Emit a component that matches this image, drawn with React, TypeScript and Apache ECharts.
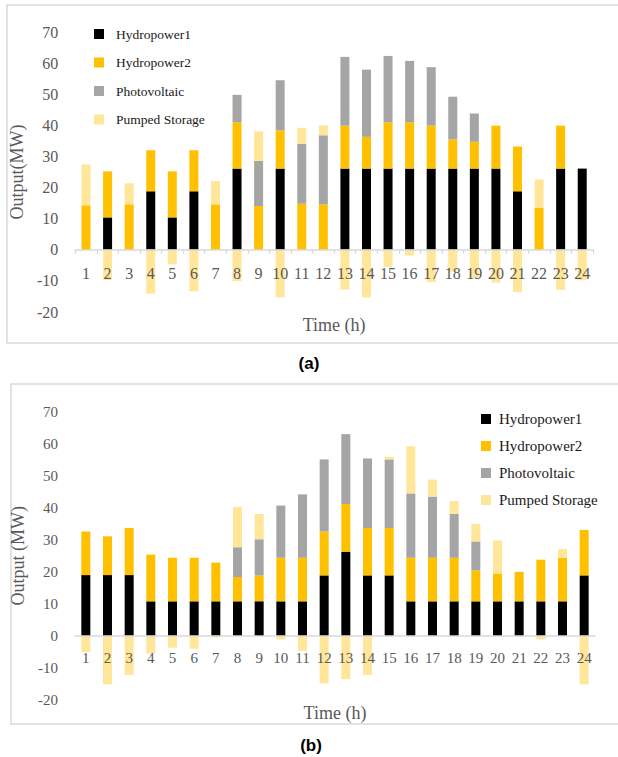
import React, { useEffect, useRef } from "react";
import * as echarts from "echarts";

const hours = ["1","2","3","4","5","6","7","8","9","10","11","12","13","14","15","16","17","18","19","20","21","22","23","24"];
const seriesNames = ["Hydropower1", "Hydropower2", "Photovoltaic", "Pumped Storage"];
const colors = ["#000000", "#FFC000", "#A5A5A5", "#FFE699"];
const yTicks = { min: -20, max: 70, interval: 10 };

const aHydro1 = [0, 10.4, 0, 18.8, 10.4, 18.8, 0, 26.1, 0, 26.1, 0, 0, 26.1, 26.1, 26.1, 26.1, 26.1, 26.1, 26.1, 26.1, 18.8, 0, 26.1, 26.1];
const aHydro2 = [14.3, 14.8, 14.6, 13.2, 14.8, 13.2, 14.6, 14.9, 14.1, 12.3, 14.8, 14.6, 13.8, 10.2, 14.9, 14.9, 13.8, 9.4, 8.6, 13.8, 14.4, 13.5, 13.8, 0];
const aPV = [0, 0, 0, 0, 0, 0, 0, 8.8, 14.5, 16.1, 19.3, 22.2, 22.1, 21.6, 21.3, 19.7, 18.8, 13.7, 9.1, 0, 0, 0, 0, 0];
const aPS = [13.1, -9.7, 6.8, -14.1, -4.7, -13.3, 7.5, -10.1, 9.5, -15.3, 5.1, 3.2, -12.8, -15.3, -5.5, -1.8, -10.4, -7, -9, -10.5, -13.6, 9.1, -12.9, -9.8];

const bHydro1 = [19, 19, 19, 10.8, 10.8, 10.8, 10.8, 10.8, 10.8, 10.8, 10.8, 18.9, 26.3, 18.9, 18.9, 10.8, 10.8, 10.8, 10.8, 10.8, 10.8, 10.8, 10.8, 18.9];
const bHydro2 = [13.6, 12.1, 14.7, 14.6, 13.6, 13.6, 12.1, 7.6, 8.1, 13.6, 13.6, 13.7, 14.9, 14.8, 14.8, 13.6, 13.6, 13.6, 9.7, 8.7, 9.2, 13.0, 13.6, 14.2];
const bPV = [0, 0, 0, 0, 0, 0, 0, 9.3, 11.3, 16.3, 19.8, 22.5, 21.8, 21.7, 21.4, 20.1, 19.1, 13.7, 9.0, 0, 0, 0, 0, 0];
const bPS = [-5, -15.1, -12.2, -5.5, -3.7, -4, -0.5, 12.6, 7.9, -1.1, -4.7, -14.8, -13.5, -12.2, 0.8, 14.7, 5.3, 4, 5.5, 10.3, 0, -1.1, 2.7, -15.1];

const serif = "Liberation Serif, Times New Roman, serif";

export default function App() {
  const ref = useRef<HTMLDivElement>(null);
  useEffect(() => {
    if (!ref.current) return;
    const chart = echarts.init(ref.current, null, { renderer: "svg" });
    const aData = [aHydro1, aHydro2, aPV, aPS];
    const bData = [bHydro1, bHydro2, bPV, bPS];
    const gridA = { left: 72, top: 32, width: 521, height: 280 };
    const gridB = { left: 75, top: 411.7, width: 520, height: 288.3 };
    const zeroOffset = (h: number) => -(h * (0 - yTicks.min)) / (yTicks.max - yTicks.min);
    const mkSeries = (data: number[][], idx: number, stack: string) =>
      data.map((d, i) => ({
        name: seriesNames[i],
        type: "bar",
        stack,
        xAxisIndex: idx,
        yAxisIndex: idx,
        barWidth: 9,
        itemStyle: { color: colors[i] },
        data: d,
      }));
    const mkX = (gridIndex: number, fs: number, margin: number, gap: number, ticks: boolean, offset: number) => ({
      type: "category",
      gridIndex,
      data: hours,
      position: "bottom",
      offset,
      z: 10,
      axisLine: { onZero: false, lineStyle: { color: "#d9d9d9", width: 1.5 } },
      axisTick: { show: ticks, length: 4, lineStyle: { color: "#d9d9d9", width: 1.2 } },
      axisLabel: { color: "#595959", fontSize: fs, fontFamily: serif, margin, interval: 0 },
      name: "Time (h)",
      nameLocation: "middle",
      nameGap: gap,
      nameTextStyle: { color: "#595959", fontSize: 18, fontFamily: serif },
    });
    const mkY = (gridIndex: number, name: string, fs: number, gap: number) => ({
      type: "value",
      gridIndex,
      min: yTicks.min,
      max: yTicks.max,
      interval: yTicks.interval,
      splitLine: { show: false },
      axisLine: { show: false },
      axisTick: { show: false },
      axisLabel: { color: "#595959", fontSize: fs, fontFamily: serif, margin: 17 },
      name,
      nameLocation: "middle",
      nameGap: gap,
      nameTextStyle: { color: "#595959", fontSize: 18, fontFamily: serif },
    });
    chart.setOption({
      animation: false,
      backgroundColor: "#ffffff",
      grid: [gridA, gridB],
      xAxis: [
        mkX(0, 16, 16, 66, true, zeroOffset(gridA.height)),
        mkX(1, 15, 15, 68, false, zeroOffset(gridB.height)),
      ],
      yAxis: [mkY(0, "Output(MW)", 16, 40), mkY(1, "Output (MW)", 15, 41)],
      legend: [
        {
          orient: "vertical",
          left: 89,
          top: 22,
          itemWidth: 10,
          itemHeight: 10,
          itemGap: 14.5,
          icon: "rect",
          selectedMode: false,
          data: seriesNames,
          textStyle: { color: "#1a1a1a", fontSize: 13.5, fontFamily: serif, padding: [0, 0, 0, 7] },
        },
        {
          orient: "vertical",
          left: 476,
          top: 406.5,
          itemWidth: 10,
          itemHeight: 10,
          itemGap: 12,
          icon: "rect",
          selectedMode: false,
          data: seriesNames,
          textStyle: { color: "#1a1a1a", fontSize: 15, fontFamily: serif, padding: [0, 0, 0, 3] },
        },
      ],
      graphic: [
        { type: "rect", shape: { x: 7, y: 5, width: 640, height: 338 }, style: { fill: "none", stroke: "#d9d9d9", lineWidth: 1.5 }, silent: true },
        { type: "rect", shape: { x: 11, y: 384, width: 640, height: 340 }, style: { fill: "none", stroke: "#d9d9d9", lineWidth: 1.5 }, silent: true },
        { type: "text", x: 309, y: 363, style: { text: "(a)", fill: "#000", font: "bold 17px Liberation Sans, Arial, sans-serif", align: "center", verticalAlign: "middle" } },
        { type: "text", x: 311, y: 745, style: { text: "(b)", fill: "#000", font: "bold 17px Liberation Sans, Arial, sans-serif", align: "center", verticalAlign: "middle" } },
      ],
      series: [...mkSeries(aData, 0, "a"), ...mkSeries(bData, 1, "b")],
    });
    return () => chart.dispose();
  }, []);
  return <div ref={ref} style={{ position: "absolute", left: 0, top: 0, width: 618, height: 757 }} />;
}
